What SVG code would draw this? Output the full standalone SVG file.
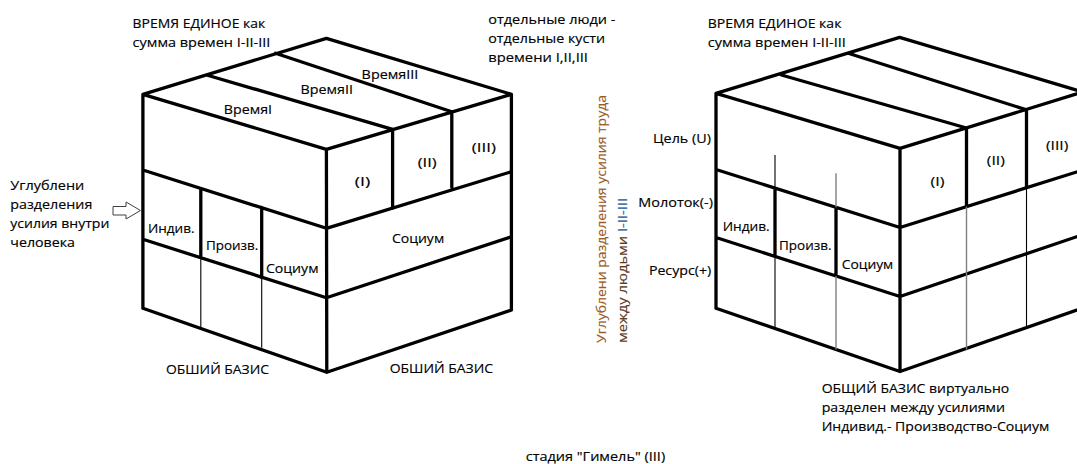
<svg xmlns="http://www.w3.org/2000/svg" width="1077" height="464" viewBox="0 0 1077 464">
<style>
.k{fill:none;stroke:#000;stroke-width:3.3;stroke-linecap:round;stroke-linejoin:round}
.n{fill:none;stroke:#000;stroke-width:1.1}
.g{fill:none;stroke:#7f7f7f;stroke-width:1.4}
text{font-family:"Open Sans","Noto Sans",sans-serif;font-size:12.5px;fill:#000;stroke:#000;stroke-width:0.15}
</style>
<rect width="1077" height="464" fill="#fff"/>
<g id="cube-left">
<path class="k" d="M142.9,94.3 L326.4,38.3 L511.4,94.3 L326.4,149.3 Z M206.6,75 L392.6,129.3 M275.5,53.3 L451.8,111.7 M142.9,94.3 V308.3 M326.4,149.3 L326.8,372.3 M511.4,94.3 V310 M142.9,170 L326.4,228.3 M142.9,239.3 L326.4,297.7 M142.9,308.3 L326.8,372.3 M326.4,228.3 L511.4,171.7 M326.4,297.7 L511.4,236.7 M326.8,372.3 L511.4,310 M392.6,129.3 V208.3 M451.8,111.7 V187.3 M200.8,188.3 V256.7 M261.7,207.3 V277.7"/>
<path class="n" d="M200.8,256.7 V327.7 M261.7,277.7 V347.7"/>
</g>
<g id="cube-right">
<path class="k" d="M716,93.3 L899.6,37.3 L1083,92 L900,148.3 Z M781.4,75 L966.5,128 M848.2,53.3 L1026.5,109.8 M716,93.3 V308.3 M900,148.3 V371.5 M716,169.5 L900,227.5 M716,237.5 L900,296.5 M716,308.3 L900,371.5 M900,227.5 L1083,170 M900,296.5 L1083,234.6 M900,371.5 L1083,308 M966.5,128 V206.5 M1026.5,109.8 V187.5 M775,188.2 V256.4 M836,207.3 V276"/>
<path class="n" d="M1026.5,187.5 V328.5 M775,155 V188.2 M775,256.4 V328.5"/>
<path class="g" d="M966.5,206.5 V349.5 M836,173.3 V207.3 M836,276 V349.5"/>
</g>
<g id="connectors">
<path d="M113,206.5 H126 V202 L140.5,210.5 L126,219 V215 H113 Z" fill="#fff" stroke="#404040" stroke-width="1"/>
</g>
<g id="labels-left">
<text x="132.6" y="27.5" textLength="132.6" lengthAdjust="spacingAndGlyphs">ВРЕМЯ ЕДИНОЕ как</text>
<text x="132.6" y="46.5" textLength="137.7" lengthAdjust="spacingAndGlyphs">сумма времен I-II-III</text>
<text x="488.3" y="24" textLength="127" lengthAdjust="spacingAndGlyphs">отдельные люди -</text>
<text x="488.3" y="43" textLength="116.7" lengthAdjust="spacingAndGlyphs">отдельные кусти</text>
<text x="488.3" y="62" textLength="99.7" lengthAdjust="spacingAndGlyphs">времени I,II,III</text>
<text x="361.6" y="79" textLength="56.8" lengthAdjust="spacingAndGlyphs">ВремяIII</text>
<text x="300.6" y="94" textLength="52.4" lengthAdjust="spacingAndGlyphs">ВремяII</text>
<text x="223.8" y="114" textLength="48.2" lengthAdjust="spacingAndGlyphs">ВремяI</text>
<text x="354.7" y="185.5" textLength="15.5" lengthAdjust="spacingAndGlyphs">(I)</text>
<text x="417.7" y="167" textLength="18.9" lengthAdjust="spacingAndGlyphs">(II)</text>
<text x="471.8" y="151.5" textLength="24.1" lengthAdjust="spacingAndGlyphs">(III)</text>
<text x="10.3" y="189.5" textLength="74" lengthAdjust="spacingAndGlyphs">Углублени</text>
<text x="10.3" y="208.5" textLength="82" lengthAdjust="spacingAndGlyphs">разделения</text>
<text x="10.3" y="227.5" textLength="99" lengthAdjust="spacingAndGlyphs">усилия внутри</text>
<text x="10.3" y="246.5" textLength="64.7" lengthAdjust="spacingAndGlyphs">человека</text>
<text x="148" y="233" textLength="46.5" lengthAdjust="spacingAndGlyphs">Индив.</text>
<text x="206" y="250" textLength="52.3" lengthAdjust="spacingAndGlyphs">Произв.</text>
<text x="265.9" y="272.5" textLength="52.6" lengthAdjust="spacingAndGlyphs">Социум</text>
<text x="391.9" y="242.5" textLength="52.3" lengthAdjust="spacingAndGlyphs">Социум</text>
<text x="166" y="373.5" textLength="103" lengthAdjust="spacingAndGlyphs">ОБШИЙ БАЗИС</text>
<text x="389.7" y="373" textLength="103.3" lengthAdjust="spacingAndGlyphs">ОБШИЙ БАЗИС</text>
<text x="525.7" y="461" textLength="139.5" lengthAdjust="spacingAndGlyphs">стадия "Гимель" (III)</text>
</g>
<g id="labels-vertical">
<text transform="translate(606,343) rotate(-90)" textLength="248" lengthAdjust="spacingAndGlyphs" style="fill:#9a5b1f;stroke:#9a5b1f">Углублени разделения усилия труда</text>
<text transform="translate(626.5,343) rotate(-90)" textLength="145" lengthAdjust="spacingAndGlyphs" style="fill:#5b3b1b;stroke:#5b3b1b">между людьми <tspan style="fill:#2f5f9f;stroke:#2f5f9f">I-II-III</tspan></text>
</g>
<g id="labels-right">
<text x="707.8" y="27.5" textLength="133.6" lengthAdjust="spacingAndGlyphs">ВРЕМЯ ЕДИНОЕ как</text>
<text x="707.8" y="46.5" textLength="138" lengthAdjust="spacingAndGlyphs">сумма времен I-II-III</text>
<text x="653" y="143" textLength="58" lengthAdjust="spacingAndGlyphs">Цель (U)</text>
<text x="638.3" y="206.5" textLength="74.7" lengthAdjust="spacingAndGlyphs">Молоток(-)</text>
<text x="648.9" y="275" textLength="62.3" lengthAdjust="spacingAndGlyphs">Ресурс(+)</text>
<text x="722.7" y="231" textLength="47" lengthAdjust="spacingAndGlyphs">Индив.</text>
<text x="779" y="249.5" textLength="52.5" lengthAdjust="spacingAndGlyphs">Произв.</text>
<text x="841.7" y="268.5" textLength="51.6" lengthAdjust="spacingAndGlyphs">Социум</text>
<text x="930.4" y="185.5" textLength="14" lengthAdjust="spacingAndGlyphs">(I)</text>
<text x="986.8" y="164.5" textLength="18" lengthAdjust="spacingAndGlyphs">(II)</text>
<text x="1046" y="149.5" textLength="22.3" lengthAdjust="spacingAndGlyphs">(III)</text>
<text x="821.7" y="392.5" textLength="187.6" lengthAdjust="spacingAndGlyphs">ОБЩИЙ БАЗИС виртуально</text>
<text x="821.7" y="412" textLength="183.3" lengthAdjust="spacingAndGlyphs">разделен между усилиями</text>
<text x="821.7" y="431" textLength="227.6" lengthAdjust="spacingAndGlyphs">Индивид.- Производство-Социум</text>
</g>
</svg>
